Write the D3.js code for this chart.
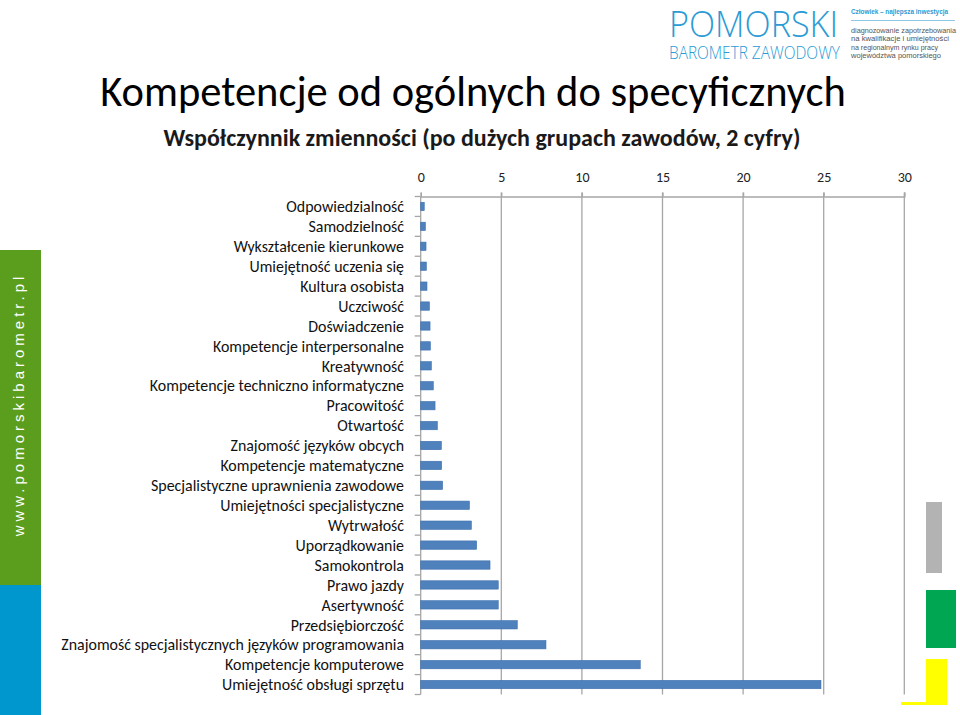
<!DOCTYPE html>
<html><head><meta charset="utf-8">
<script src="https://cdn.jsdelivr.net/npm/d3@7"></script>
<style>
body{margin:0;background:#fff;}
</style></head>
<body>
<svg id="chart" width="960" height="715"></svg>
<script>
const categories = [
 "Odpowiedzialność","Samodzielność","Wykształcenie kierunkowe","Umiejętność uczenia się",
 "Kultura osobista","Uczciwość","Doświadczenie","Kompetencje interpersonalne","Kreatywność",
 "Kompetencje techniczno informatyczne","Pracowitość","Otwartość","Znajomość języków obcych",
 "Kompetencje matematyczne","Specjalistyczne uprawnienia zawodowe","Umiejętności specjalistyczne",
 "Wytrwałość","Uporządkowanie","Samokontrola","Prawo jazdy","Asertywność","Przedsiębiorczość",
 "Znajomość specjalistycznych języków programowania","Kompetencje komputerowe","Umiejętność obsługi sprzętu"
];
const values = [0.22,0.29,0.33,0.35,0.39,0.54,0.58,0.60,0.66,0.78,0.89,1.03,1.28,1.30,1.36,
 3.02,3.14,3.47,4.30,4.81,4.81,5.99,7.77,13.62,24.83];
const tickValues = [0,5,10,15,20,25,30];
const title = "Kompetencje od ogólnych do specyficznych";
const subtitle = "Współczynnik zmienności (po dużych grupach zawodów, 2 cyfry)";

const svg = d3.select("#chart");
const FONT = "Carlito, Lato, 'Open Sans', sans-serif";
const GRID = "#a6a6a6";

// chart scales
const x = d3.scaleLinear().domain([0,30]).range([420.7,904.3]);
const yTop = 196.5, yBottom = 694.5;
const y = d3.scaleBand().domain(categories).range([yTop,yBottom]).paddingInner(0.58).paddingOuter(0.29);

// gridlines
const grid = svg.append("g").attr("class","grid");
grid.selectAll("line").data(tickValues.filter(d=>d>0)).join("line")
  .attr("x1",d=>x(d)).attr("x2",d=>x(d)).attr("y1",yTop-4).attr("y2",yBottom)
  .attr("stroke",GRID).attr("stroke-width",1.3);

// top axis
const xAxis = svg.append("g").attr("transform",`translate(0,${yTop})`)
  .call(d3.axisTop(x).tickValues(tickValues).tickSize(4).tickPadding(11).tickFormat(d3.format("d")));
xAxis.select(".domain").attr("stroke",GRID).attr("stroke-width",1.3);
xAxis.selectAll(".tick line").attr("stroke",GRID).attr("stroke-width",1.3);
xAxis.selectAll("text").attr("font-family",FONT).attr("font-size",14).attr("fill","#222");

// left axis (category) with ticks at band boundaries
const step = y.step();
const yAxisG = svg.append("g");
yAxisG.append("line").attr("x1",x(0)).attr("x2",x(0)).attr("y1",yTop).attr("y2",yBottom)
  .attr("stroke",GRID).attr("stroke-width",1.3);
yAxisG.selectAll("line.tk").data(d3.range(categories.length+1)).join("line").attr("class","tk")
  .attr("x1",x(0)-6).attr("x2",x(0)).attr("y1",d=>yTop+d*step).attr("y2",d=>yTop+d*step)
  .attr("stroke",GRID).attr("stroke-width",1.3);

// labels
svg.append("g").selectAll("text").data(categories).join("text")
  .attr("x",404).attr("y",d=>y(d)+y.bandwidth()/2).attr("dy","0.36em")
  .attr("text-anchor","end").attr("font-family",FONT).attr("font-size",15.9).attr("fill","#111")
  .text(d=>d);

// bars
svg.append("g").selectAll("rect").data(values).join("rect")
  .attr("x",x(0)).attr("y",(d,i)=>y(categories[i]))
  .attr("width",d=>x(d)-x(0)).attr("height",y.bandwidth())
  .attr("fill","#4f81bd").attr("stroke","#3d6fae").attr("stroke-width",0.6);

// left decorative band
svg.append("rect").attr("x",0).attr("y",250).attr("width",41).attr("height",335).attr("fill","#5b9e1d");
svg.append("rect").attr("x",0).attr("y",585).attr("width",41).attr("height",130).attr("fill","#0097cf");
svg.append("text").attr("transform","translate(23.5,404.5) rotate(-90)")
  .attr("text-anchor","middle").attr("fill","#fff").attr("font-family","'Liberation Sans',Arial,sans-serif")
  .attr("font-size",15).attr("letter-spacing",4.0).text("www.pomorskibarometr.pl");

// right decorative shapes
svg.append("rect").attr("x",926).attr("y",502).attr("width",16).attr("height",71).attr("fill","#b3b3b3");
svg.append("rect").attr("x",926).attr("y",590).attr("width",30).attr("height",58).attr("fill","#00a651");
svg.append("rect").attr("x",926).attr("y",659).attr("width",21).attr("height",46).attr("fill","#ffff00");
svg.append("rect").attr("x",901).attr("y",702).attr("width",46).attr("height",3).attr("fill","#ffff00");

// logo
const logo = svg.append("g");
logo.append("text").attr("x",669).attr("y",37).attr("font-family","'Open Sans',Lato,sans-serif")
  .attr("font-weight",300).attr("font-size",36).attr("fill","#2a9bd5")
  .attr("textLength",169).attr("lengthAdjust","spacingAndGlyphs").text("POMORSKI");
logo.append("text").attr("x",669).attr("y",59).attr("font-family","'Open Sans',Lato,sans-serif")
  .attr("font-weight",300).attr("font-size",19).attr("fill","#2a9bd5")
  .attr("textLength",171).attr("lengthAdjust","spacingAndGlyphs").text("BAROMETR ZAWODOWY");
logo.append("text").attr("x",851).attr("y",14).attr("font-family","'Liberation Sans',sans-serif")
  .attr("font-weight",700).attr("font-size",7.5).attr("fill","#2a9bd5")
  .attr("textLength",97).attr("lengthAdjust","spacingAndGlyphs").text("Człowiek – najlepsza inwestycja");
logo.append("line").attr("x1",851).attr("x2",955).attr("y1",20.5).attr("y2",20.5).attr("stroke","#8cc7e6").attr("stroke-width",1);
const smallLines = ["diagnozowanie zapotrzebowania","na kwalifikacje i umiejętności","na regionalnym rynku pracy","województwa pomorskiego"];
const smallW = [105,98,87,90];
logo.selectAll("text.small").data(smallLines).join("text").attr("class","small")
  .attr("x",851).attr("y",(d,i)=>33+i*8.4).attr("font-family","'Liberation Sans',sans-serif")
  .attr("font-size",7.2).attr("fill","#555").attr("textLength",(d,i)=>smallW[i]).attr("lengthAdjust","spacingAndGlyphs").text(d=>d);

// titles
svg.append("text").attr("x",473).attr("y",106).attr("text-anchor","middle")
  .attr("font-family",FONT).attr("font-size",42.5).attr("fill","#000").text(title);
svg.append("text").attr("x",482).attr("y",146).attr("text-anchor","middle")
  .attr("font-family",FONT).attr("font-weight",700).attr("font-size",24).attr("fill","#1a1a1a").text(subtitle);
</script>
</body></html>
